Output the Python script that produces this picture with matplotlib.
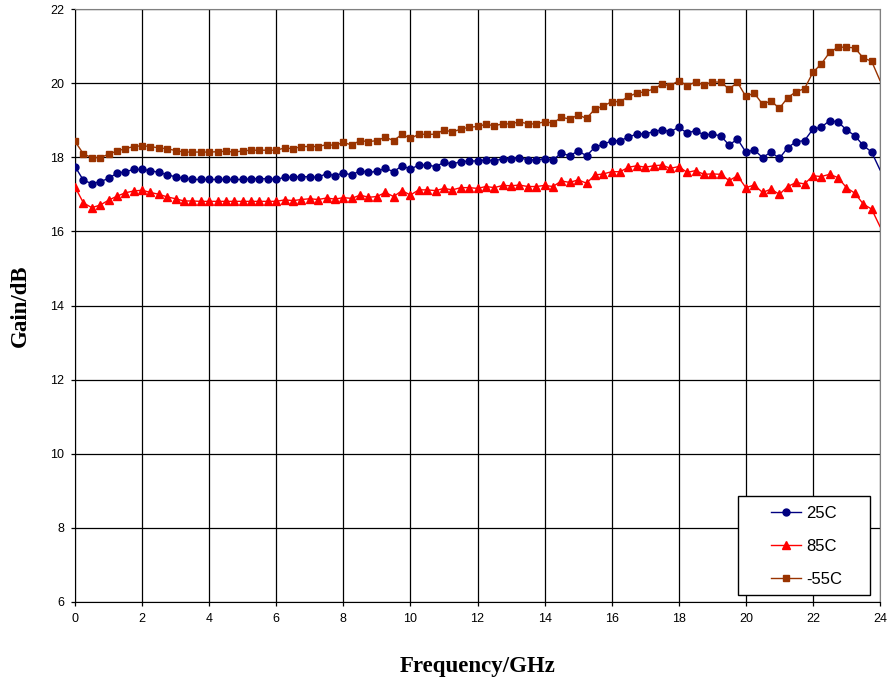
import matplotlib
matplotlib.use("Agg")
import matplotlib.pyplot as plt
import numpy as np
from matplotlib.patches import Rectangle

# frequency points, 0.25 GHz step
freq = np.arange(0, 24.001, 0.25)

gain_25c = [
    17.75, 17.38, 17.29, 17.34, 17.43, 17.57, 17.61, 17.67, 17.67, 17.64, 17.59,
    17.53, 17.47, 17.43, 17.40, 17.40, 17.40, 17.40, 17.40, 17.40, 17.40, 17.42,
    17.42, 17.42, 17.40, 17.46, 17.46, 17.48, 17.47, 17.46, 17.56, 17.50, 17.58,
    17.52, 17.64, 17.59, 17.62, 17.70, 17.61, 17.77, 17.68, 17.79, 17.79, 17.75,
    17.86, 17.82, 17.88, 17.90, 17.90, 17.93, 17.90, 17.96, 17.96, 17.99, 17.93,
    17.93, 17.96, 17.93, 18.11, 18.04, 18.17, 18.04, 18.27, 18.35, 18.44,
    18.45, 18.54, 18.63, 18.63, 18.69, 18.74, 18.69, 18.81, 18.65, 18.72, 18.60,
    18.62, 18.58, 18.33, 18.49, 18.14, 18.20, 17.99, 18.14, 17.97, 18.26, 18.42,
    18.45, 18.76, 18.81, 18.99, 18.95, 18.74, 18.58, 18.32, 18.14, 17.66,
]

gain_85c = [
    17.20, 16.77, 16.64, 16.71, 16.84, 16.95, 17.04, 17.09, 17.11, 17.05, 17.00,
    16.93, 16.88, 16.82, 16.82, 16.81, 16.81, 16.81, 16.81, 16.81, 16.81, 16.81,
    16.81, 16.81, 16.81, 16.85, 16.83, 16.86, 16.88, 16.86, 16.90, 16.87, 16.91,
    16.89, 16.98, 16.92, 16.94, 17.05, 16.94, 17.10, 16.98, 17.12, 17.12, 17.10,
    17.16, 17.12, 17.18, 17.18, 17.16, 17.21, 17.18, 17.24, 17.23, 17.25, 17.21,
    17.21, 17.24, 17.21, 17.36, 17.32, 17.39, 17.30, 17.52, 17.55, 17.61,
    17.61, 17.73, 17.77, 17.73, 17.77, 17.79, 17.70, 17.75, 17.59, 17.64, 17.54,
    17.55, 17.54, 17.37, 17.50, 17.18, 17.25, 17.05, 17.14, 17.00, 17.21, 17.32,
    17.28, 17.50, 17.48, 17.54, 17.45, 17.18, 17.03, 16.74, 16.60, 16.13,
]

gain_m55c = [
    18.43, 18.09, 17.99, 17.99, 18.08, 18.17, 18.23, 18.29, 18.31, 18.29, 18.25,
    18.23, 18.18, 18.14, 18.14, 18.14, 18.14, 18.15, 18.16, 18.14, 18.17, 18.19,
    18.19, 18.19, 18.19, 18.25, 18.23, 18.29, 18.29, 18.29, 18.34, 18.32, 18.40,
    18.33, 18.45, 18.42, 18.45, 18.54, 18.45, 18.62, 18.51, 18.62, 18.62, 18.62,
    18.74, 18.68, 18.76, 18.81, 18.83, 18.89, 18.85, 18.90, 18.90, 18.96, 18.90,
    18.90, 18.96, 18.92, 19.08, 19.03, 19.14, 19.05, 19.30, 19.38, 19.50,
    19.50, 19.64, 19.73, 19.77, 19.84, 19.97, 19.93, 20.07, 19.93, 20.03, 19.95,
    20.03, 20.03, 19.84, 20.02, 19.64, 19.73, 19.43, 19.52, 19.32, 19.61, 19.77,
    19.85, 20.29, 20.52, 20.83, 20.97, 20.97, 20.95, 20.68, 20.59, 20.07,
]

labels = ["25C", "85C", "-55C"]
colors = ["#000080", "#FF0000", "#993300"]
markers = ["o", "^", "s"]
sizes = [5, 6, 5]

fig = plt.figure(figsize=(8.88, 6.77), dpi=100)
ax = fig.add_axes([75 / 888, 1 - 602 / 677, 805 / 888, 593 / 677])

# last point sits on the right border, Excel hides its marker
marks = list(range(len(freq) - 1))
for series, lab, c, m, s in zip([gain_25c, gain_85c, gain_m55c], labels, colors, markers, sizes):
    ax.plot(freq, series, color=c, marker=m, markersize=s, linewidth=1.0,
            markevery=marks, label=lab, zorder=3)

ax.set_xlim(0, 24)
ax.set_ylim(6, 22)
ax.set_xticks(np.arange(0, 25, 2))
ax.set_yticks(np.arange(6, 23, 2))
ax.grid(True, color="black", linewidth=0.9)
ax.set_axisbelow(True)
for side in ["left", "bottom"]:
    ax.spines[side].set_color("black")
for side in ["top", "right"]:
    ax.spines[side].set_color("#808080")
ax.tick_params(direction="out", length=3, width=0.9, labelsize=9, pad=5)
for t in ax.get_xticklabels() + ax.get_yticklabels():
    t.set_fontfamily("Liberation Sans")

ax.set_xlabel("Frequency/GHz", family="Liberation Serif", fontsize=16.5,
              fontweight="bold", labelpad=22)
ax.set_ylabel("Gain/dB", family="Liberation Serif", fontsize=16.5,
              fontweight="bold", labelpad=14)

# legend box drawn by hand to get Excel-like padding
x0 = (738 - 75) / 805
x1 = (870 - 75) / 805
y0 = (602 - 595) / 593
y1 = (602 - 496) / 593
ax.add_patch(Rectangle((x0, y0), x1 - x0, y1 - y0, transform=ax.transAxes,
                       facecolor="white", edgecolor="black", linewidth=1.0,
                       zorder=4, clip_on=False))
leg = ax.legend(loc="upper left", bbox_to_anchor=((771 - 75) / 805, (602 - 506) / 593),
                frameon=False, borderpad=0, borderaxespad=0, handlelength=1.8,
                handletextpad=0.3, labelspacing=1.07,
                prop={"family": "Liberation Sans", "size": 12})
leg.set_zorder(5)

fig.savefig("out.png", dpi=100)
